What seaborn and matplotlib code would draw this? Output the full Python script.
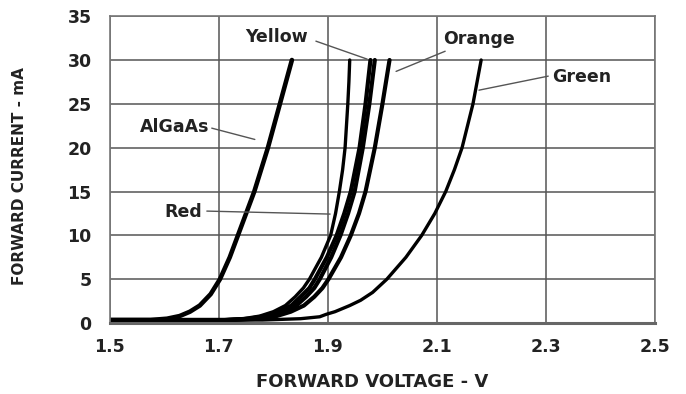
import matplotlib
matplotlib.use("Agg")
import matplotlib.pyplot as plt
import seaborn as sns
import pandas as pd

# ---- data (forward voltage V, forward current mA) ----
algaas_v = [1.50, 1.575, 1.605, 1.628, 1.647, 1.665, 1.685, 1.702, 1.720, 1.735, 1.750, 1.765, 1.790, 1.812, 1.834]
algaas_i = [0.35, 0.35, 0.5, 0.8, 1.3, 2.0, 3.3, 5.0, 7.5, 10.0, 12.5, 15.0, 20.0, 25.0, 30.0]

cluster_i = [0.35, 0.35, 0.5, 0.8, 1.3, 2.0, 3.0, 4.0, 5.0, 7.5, 10.0, 12.5, 15.0, 20.0, 25.0, 30.0]
yellow1_v = [1.50, 1.710, 1.755, 1.785, 1.810, 1.833, 1.850, 1.866, 1.876, 1.898, 1.916, 1.930, 1.942, 1.958, 1.969, 1.978]
yellow2_v = [1.50, 1.715, 1.762, 1.793, 1.818, 1.842, 1.860, 1.875, 1.885, 1.906, 1.923, 1.937, 1.949, 1.964, 1.976, 1.986]
orange_v = [1.50, 1.725, 1.775, 1.806, 1.832, 1.856, 1.875, 1.890, 1.901, 1.924, 1.942, 1.957, 1.969, 1.986, 2.000, 2.013]

red_i = [0.35, 0.35, 0.5, 0.8, 1.3, 2.0, 3.0, 4.0, 5.0, 7.5, 10.0, 12.5, 15.0, 17.5, 20.0, 22.5, 25.0, 27.5, 30.0]
red_v = [1.50, 1.700, 1.745, 1.775, 1.800, 1.822, 1.840, 1.855, 1.866, 1.888, 1.905, 1.914, 1.921, 1.927, 1.9315, 1.934, 1.9365, 1.9385, 1.940]

green_v = [1.50, 1.780, 1.850, 1.885, 1.897, 1.913, 1.940, 1.960, 1.982, 2.008, 2.043, 2.072, 2.096, 2.116, 2.132, 2.146, 2.166, 2.181]
green_i = [0.35, 0.35, 0.5, 0.72, 1.0, 1.3, 2.0, 2.6, 3.5, 5.0, 7.5, 10.0, 12.5, 15.0, 17.5, 20.0, 25.0, 30.0]

x_ticks = [1.5, 1.7, 1.9, 2.1, 2.3, 2.5]
y_ticks = [0, 5, 10, 15, 20, 25, 30, 35]

series = [
    ("AlGaAs", algaas_v, algaas_i, 3.3),
    ("Red", red_v, red_i, 2.4),
    ("Yellow1", yellow1_v, cluster_i, 3.0),
    ("Yellow2", yellow2_v, cluster_i, 3.0),
    ("Orange", orange_v, cluster_i, 3.0),
    ("Green", green_v, green_i, 2.4),
]

# label text, text anchor (data), ha, leader start, leader end (data)
label_names = ["AlGaAs", "Yellow", "Orange", "Green", "Red"]
label_pos = [(1.6835, 22.35), (1.7477, 32.6), (2.111, 32.38), (2.311, 28.05), (1.6688, 12.66)]
label_ha = ["right", "left", "left", "left", "right"]
leader_start = [(1.687, 22.23), (1.878, 32.15), (2.115, 31.0), (2.304, 28.16), (1.678, 12.77)]
leader_end = [(1.766, 20.94), (1.972, 30.1), (2.025, 28.7), (2.177, 26.56), (1.904, 12.43)]

sns.set_style("white")
plt.rcParams["font.family"] = ["DejaVu Sans"]
plt.rcParams["font.weight"] = "bold"

fig = plt.figure(figsize=(6.86, 3.94), dpi=100)
ax = fig.add_axes([0.160, 0.180, 0.795, 0.779])

for name, v, i, lw in series:
    df = pd.DataFrame({"v": v, "i": i})
    sns.lineplot(data=df, x="v", y="i", ax=ax, color="black", lw=lw,
                 sort=False, estimator=None)

ax.set_xlim(1.5, 2.5)
ax.set_ylim(0, 35)
ax.set_xticks(x_ticks)
ax.set_xticklabels([f"{t:.1f}" for t in x_ticks])
ax.set_yticks(y_ticks)
ax.grid(True, color="#555555", lw=1.1)
ax.set_axisbelow(True)
for s in ax.spines.values():
    s.set_color("#777777")
    s.set_linewidth(1.2)
ax.spines["bottom"].set_color("#666666")
ax.spines["bottom"].set_linewidth(2.2)
ax.tick_params(axis="x", direction="out", length=3.6, width=1.0,
               color="#555555", labelsize=12.5, pad=7.5)
ax.tick_params(axis="y", direction="out", length=7, width=1.0,
               color="#555555", labelsize=12.5, pad=6)
for lab in ax.get_xticklabels() + ax.get_yticklabels():
    lab.set_fontweight("bold")
    lab.set_color("#222222")

ax.set_xlabel("FORWARD VOLTAGE - V", fontsize=13, fontweight="bold", color="#222222")
ax.xaxis.set_label_coords(0.481, -0.192)
ax.xaxis.label.set_va("center")
ax.set_ylabel("FORWARD CURRENT - mA", fontsize=11, fontweight="bold", color="#222222")
ax.yaxis.set_label_coords(-0.165, 0.48)
ax.yaxis.label.set_va("center")

for text, (tx, ty), ha, (sx, sy), (ex, ey) in zip(label_names, label_pos, label_ha,
                                                    leader_start, leader_end):
    ax.text(tx, ty, text, ha=ha, va="center", fontsize=12.5,
            fontweight="bold", color="#222222", clip_on=False)
    ax.plot([sx, ex], [sy, ey], color="#555555", lw=1.0, clip_on=False)

fig.savefig("out.png", dpi=100, facecolor="white")
